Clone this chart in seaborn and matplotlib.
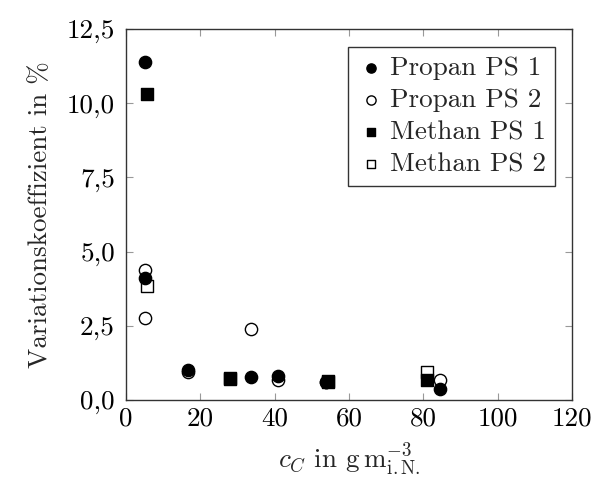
import matplotlib
matplotlib.use("Agg")
import matplotlib.pyplot as plt
from matplotlib.ticker import FuncFormatter, MultipleLocator
import numpy as np
import pandas as pd
import seaborn as sns

# Coefficient of variation vs. carbon concentration
propan_ps1_x = [5.1, 5.1, 16.6, 33.7, 41.0, 53.8, 84.5]
propan_ps1_y = [11.4, 4.1, 1.02, 0.77, 0.80, 0.62, 0.36]

propan_ps2_x = [5.1, 5.1, 16.6, 33.7, 41.0, 53.8, 84.5]
propan_ps2_y = [4.38, 2.75, 0.93, 2.40, 0.68, 0.60, 0.68]

methan_ps1_x = [5.7, 27.9, 54.4, 81.1]
methan_ps1_y = [10.3, 0.75, 0.65, 0.67]

methan_ps2_x = [5.7, 27.9, 54.4, 81.1]
methan_ps2_y = [3.85, 0.72, 0.62, 0.94]

series_names = ["Propan PS 1", "Propan PS 2", "Methan PS 1", "Methan PS 2"]

sns.set_theme(style="white")
plt.rcParams["font.family"] = ["cmr10", "DejaVu Serif"]
plt.rcParams["mathtext.fontset"] = "cm"
plt.rcParams["axes.formatter.use_mathtext"] = True
plt.rcParams["axes.unicode_minus"] = False

FS = 19.5

fig = plt.figure(figsize=(5.98, 4.88), dpi=100)
ax = fig.add_axes([0.2107, 0.1803, 0.7458, 0.7603])

frames = [
    (propan_ps1_x, propan_ps1_y, "o", "black", 4),
    (propan_ps2_x, propan_ps2_y, "o", "white", 2),
    (methan_ps1_x, methan_ps1_y, "s", "black", 5),
    (methan_ps2_x, methan_ps2_y, "s", "white", 3),
]
for name, (xs, ys, mk, fc, z) in zip(series_names, frames):
    df = pd.DataFrame({"x": xs, "y": ys})
    size = 78 if mk == "o" else 70
    sns.scatterplot(data=df, x="x", y="y", marker=mk, s=size, color=fc,
                    edgecolor="black", linewidth=1.0, ax=ax, label=name,
                    zorder=z, legend=False)

ax.set_xlim(0, 120)
ax.set_ylim(0, 12.5)
ax.xaxis.set_major_locator(MultipleLocator(20))
ax.yaxis.set_major_locator(MultipleLocator(2.5))
ax.yaxis.set_major_formatter(FuncFormatter(lambda v, p: f"{v:.1f}".replace(".", ",")))
ax.xaxis.set_major_formatter(FuncFormatter(lambda v, p: f"{v:.0f}"))

for side in ["left", "right", "top", "bottom"]:
    ax.spines[side].set_visible(True)
    ax.spines[side].set_color("#333333")
    ax.spines[side].set_linewidth(1.0)

ax.tick_params(axis="both", which="major", direction="in", length=5,
               width=0.8, color="#999999", labelsize=FS, labelcolor="black",
               top=True, right=True, bottom=True, left=True)
ax.tick_params(axis="x", pad=5)
ax.tick_params(axis="y", pad=8)

ax.set_xlabel(r"$c_C$ in $\mathrm{g\,m^{-3}_{i.N.}}$", fontsize=FS, labelpad=8)
ax.set_ylabel("Variationskoeffizient in %", fontsize=FS, labelpad=10)

handles, labels = ax.get_legend_handles_labels()
order = [labels.index(n) for n in series_names]
leg = ax.legend([handles[i] for i in order], [labels[i] for i in order],
                loc="upper right", bbox_to_anchor=(0.962, 0.952),
                fontsize=FS, frameon=True, fancybox=False, handletextpad=0.2,
                handlelength=1.0, borderpad=0.35, labelspacing=0.3,
                markerscale=0.75, borderaxespad=0)
leg.get_frame().set_edgecolor("black")
leg.get_frame().set_linewidth(1.0)

fig.savefig("out.png", dpi=100)
